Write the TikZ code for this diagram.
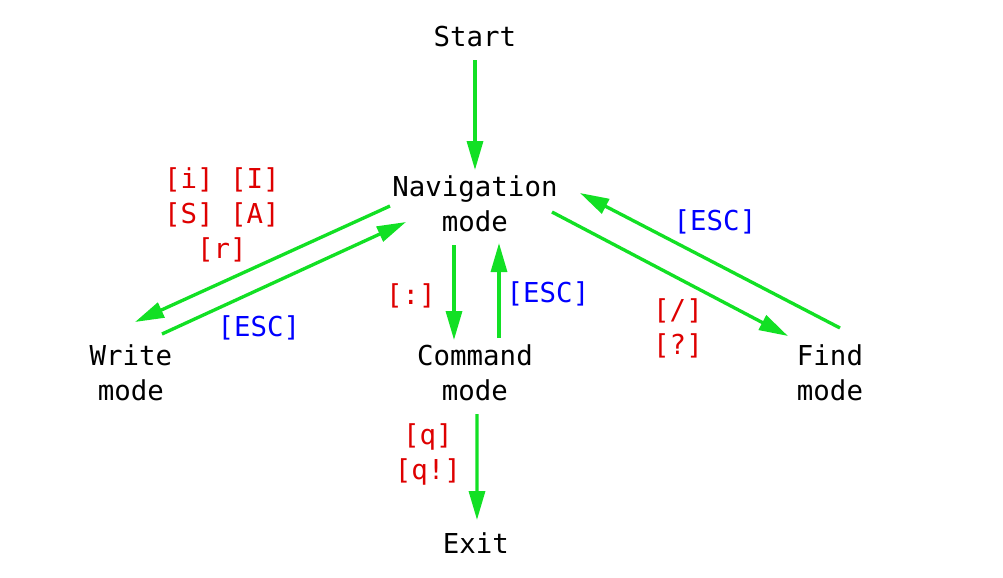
\documentclass[tikz,border=0pt]{standalone}
\usepackage{fontspec}
\setmonofont{DejaVu Sans Mono}
\usepackage{xcolor}
\usepackage{tikz}
\usetikzlibrary{arrows.meta,positioning}
\definecolor{EdgeGreen}{RGB}{18,224,36}
\definecolor{KeyRed}{RGB}{222,0,0}
\definecolor{EscBlue}{RGB}{0,0,255}
\tikzset{
    state/.style={inner sep=0pt, align=center, font=\ttfamily\fontsize{15.6}{19.9}\selectfont},
    keyred/.style={inner sep=0pt, align=center, text=KeyRed, font=\ttfamily\fontsize{15.6}{19.9}\selectfont},
    keyblue/.style={inner sep=0pt, align=center, text=EscBlue, font=\ttfamily\fontsize{15.6}{19.9}\selectfont},
    modearr/.style={-{Triangle[length=5.8mm, width=3.2mm]}, line width=1.9pt, EdgeGreen},
}
\begin{document}
\begin{tikzpicture}
\useasboundingbox (-9.5,4.08) rectangle (10.56,-7.46);
\node[state] (start) at (0,3.34) {Start};
\node[state] (nav) at (0,0) {Navigation\\mode};
\node[state] (write) at (-6.88,-3.38) {Write\\mode};
\node[state] (cmd) at (0,-3.38) {Command\\mode};
\node[state] (find) at (7.10,-3.38) {Find\\mode};
\node[state] (exit) at (0.02,-6.78) {Exit};

\node[keyred] (insertkeys) at (-5.06,-0.22) {[i] [I]\\{}[S] [A]\\{}[r]};
\node[keyblue] (writeesc) at (-4.32,-2.48) {[ESC]};
\node[keyred] (colonkey) at (-1.28,-1.84) {[:]};
\node[keyblue] (cmdesc) at (1.46,-1.80) {[ESC]};
\node[keyblue] (findesc) at (4.80,-0.36) {[ESC]};
\node[keyred] (findkeys) at (4.06,-2.48) {[/]\\{}[?]};
\node[keyred] (quitkeys) at (-0.94,-5.00) {[q]\\{}[q!]};

\draw[modearr] ([yshift=-0.46cm]start.center) -- ([yshift=0.68cm]nav.center);
\draw[modearr] ([shift={(-1.70,-0.04)}]nav.center) -- ([shift={(0.08,1.02)}]write.center);
\draw[modearr] ([shift={(0.62,0.78)}]write.center) -- ([shift={(-1.38,-0.36)}]nav.center);
\draw[modearr] ([shift={(-0.42,-0.82)}]nav.center) -- ([shift={(-0.42,0.66)}]cmd.center);
\draw[modearr] ([shift={(0.48,0.70)}]cmd.center) -- ([shift={(0.48,-0.78)}]nav.center);
\draw[modearr] ([shift={(1.54,-0.16)}]nav.center) -- ([shift={(-0.84,0.74)}]find.center);
\draw[modearr] ([shift={(0.20,0.90)}]find.center) -- ([shift={(2.10,0.22)}]nav.center);
\draw[modearr] ([shift={(0.04,-0.82)}]cmd.center) -- ([shift={(0.02,0.46)}]exit.center);
\end{tikzpicture}
\end{document}
